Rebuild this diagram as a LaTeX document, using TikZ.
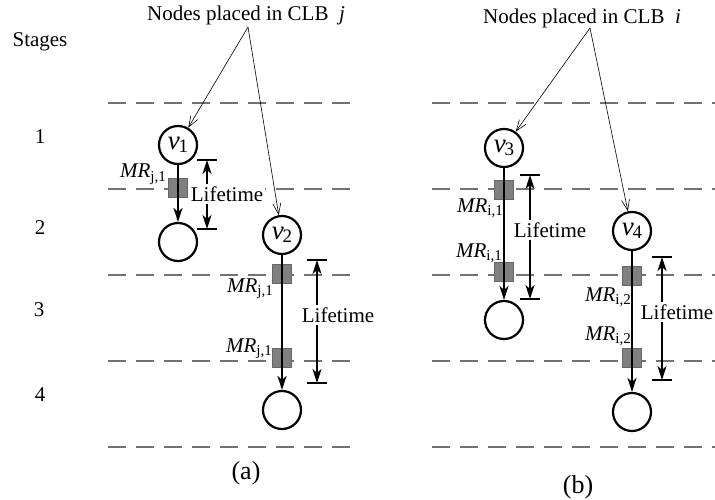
\documentclass[tikz,border=0pt]{standalone}
\usepackage{fontspec}
\setmainfont{Liberation Serif}
\usetikzlibrary{arrows.meta,calc}
\newcommand{\lowidx}[1]{\raisebox{-0.38ex}{\fontsize{15}{15}\selectfont #1}}
\newcommand{\vlabel}[1]{{\fontsize{27}{30}\selectfont\textit{v}\kern-1pt\raisebox{-0.25ex}{\fontsize{19}{19}\selectfont #1}}}
\begin{document}
\begin{tikzpicture}[x=1pt,y=-1pt,
  txt/.style={font=\fontsize{21}{25}\selectfont, inner sep=1pt},
  stageline/.style={draw=black!55, line width=1.2pt, dash pattern=on 18pt off 10pt},
  vnode/.style={circle, draw, line width=2.2pt, minimum size=38pt, inner sep=0pt},
  mr/.style={rectangle, fill=black!50, draw=black!60, line width=0.6pt,
             minimum size=19pt, inner sep=0pt},
  mrlabel/.style={font=\fontsize{21}{25}\selectfont, inner sep=0pt, anchor=base east},
  flow/.style={line width=2pt, -{Stealth[length=14pt,width=9pt,inset=4pt]}},
  life/.style={line width=2pt, -{Stealth[length=14pt,width=9pt,inset=4pt]}},
  bar/.style={line width=2pt},
  pointer/.style={line width=0.6pt, -{Straight Barb[length=11pt,width=8pt]}},
  lifelabel/.style={font=\fontsize{21}{25}\selectfont, fill=white, inner sep=2pt},
]
\useasboundingbox (0,0) rectangle (715,500);

% stage boundaries
\foreach \y in {103,189,275,361,447} {
  \draw[stageline] (108,\y) -- (357,\y);
  \draw[stageline] (432,\y) -- (720,\y);
}

% stage numbers
\node[txt] (stg) at (40,42) {Stages};
\node[txt] (st1) at (40,137) {1};
\node[txt] (st2) at (40,228) {2};
\node[txt] (st3) at (39,310) {3};
\node[txt] (st4) at (40,395) {4};

% titles
\node[txt] (t1) at (246,15) {Nodes placed in CLB\ \ \textit{j}};
\node[txt] (t2) at (582,18) {Nodes placed in CLB\ \ \textit{i}};
\coordinate (p1) at (248,27);
\coordinate (p2) at (590,28);

% nodes
\node[vnode] (v1) at (178,145) {\vlabel{1}};
\node[vnode] (c1) at (178,242) {};
\node[vnode] (v2) at (282,235) {\vlabel{2}};
\node[vnode] (c2) at (282,410) {};
\node[vnode] (v3) at (504,148) {\vlabel{3}};
\node[vnode] (c3) at (504,320) {};
\node[vnode] (v4) at (632,231) {\vlabel{4}};
\node[vnode] (c4) at (632,412) {};

% memory registers
\node[mr] (s1) at (178,188) {};
\node[mr] (s2) at (282,274) {};
\node[mr] (s3) at (282,358) {};
\node[mr] (s4) at (504,190) {};
\node[mr] (s5) at (504,272) {};
\node[mr] (s6) at (632,276) {};
\node[mr] (s7) at (632,358) {};

\node[mrlabel] (m1) at (166,178) {\textit{MR}\lowidx{j,1}};
\node[mrlabel] (m2) at (273,292) {\textit{MR}\lowidx{j,1}};
\node[mrlabel] (m3) at (272,352) {\textit{MR}\lowidx{j,1}};
\node[mrlabel] (m4) at (503,212) {\textit{MR}\lowidx{i,1}};
\node[mrlabel] (m5) at (502,257) {\textit{MR}\lowidx{i,1}};
\node[mrlabel] (m6) at (631,301) {\textit{MR}\lowidx{i,2}};
\node[mrlabel] (m7) at (631,340) {\textit{MR}\lowidx{i,2}};

% data flow
\draw[flow] (v1) -- (c1);
\draw[flow] (v2) -- (c2);
\draw[flow] (v3) -- (c3);
\draw[flow] (v4) -- (c4);

% pointers from titles
\draw[pointer] (p1) -- (v1);
\draw[pointer] (p1) -- (v2);
\draw[pointer] (p2) -- (v3);
\draw[pointer] (p2) -- (v4);

% lifetime brackets
\coordinate (b1t) at (207,160); \coordinate (b1b) at (207,229);
\coordinate (b2t) at (317,260); \coordinate (b2b) at (317,383);
\coordinate (b3t) at (530,175); \coordinate (b3b) at (530,299);
\coordinate (b4t) at (662,257); \coordinate (b4b) at (662,380);

\node[lifelabel] (l1) at (227,194) {Lifetime};
\node[lifelabel] (l2) at (338,315) {Lifetime};
\node[lifelabel] (l3) at (550,230) {Lifetime};
\node[lifelabel] (l4) at (677,312) {Lifetime};

\foreach \b/\l in {b1/l1,b2/l2,b3/l3,b4/l4} {
  \draw[bar] ($(\b t)+(-10,0)$) -- ($(\b t)+(10,0)$);
  \draw[bar] ($(\b b)+(-10,0)$) -- ($(\b b)+(10,0)$);
  \draw[life] (\l.north -| \b t) -- (\b t);
  \draw[life] (\l.south -| \b b) -- (\b b);
}

% captions
\node[font=\fontsize{26}{30}\selectfont, inner sep=0pt] (capa) at (246,473) {(a)};
\node[font=\fontsize{26}{30}\selectfont, inner sep=0pt] (capb) at (578,487) {(b)};
\end{tikzpicture}
\end{document}
